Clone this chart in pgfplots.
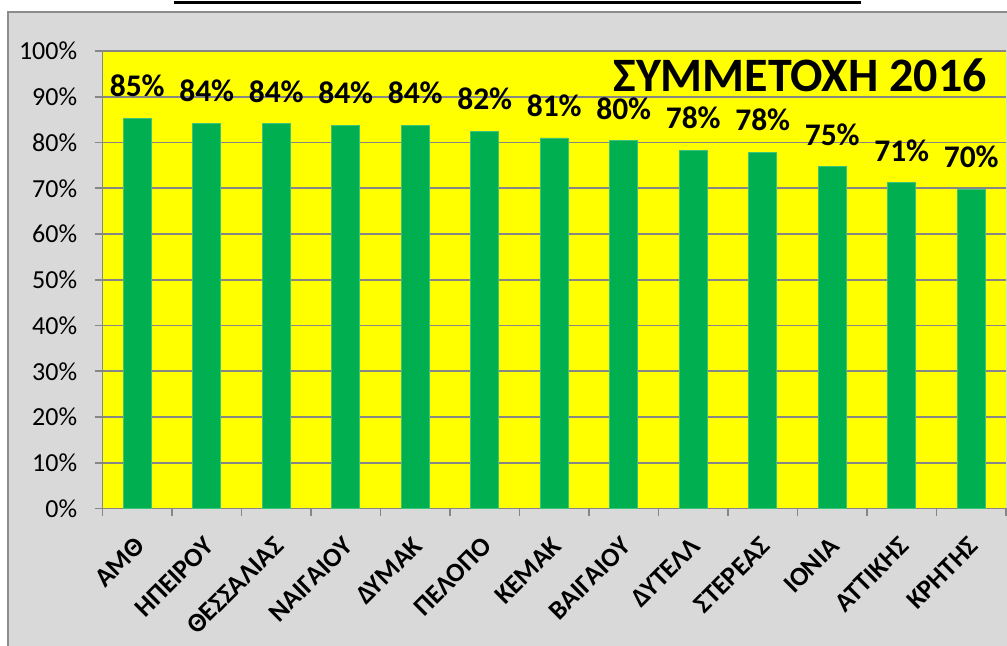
\documentclass[border=0pt]{standalone}
\usepackage{pgfplots}
\pgfplotsset{compat=1.18}
\usepackage{fontspec}
\setmainfont{Carlito}
\definecolor{bggrey}{HTML}{D9D9D9}
\definecolor{framegrey}{HTML}{8C8C8C}
\definecolor{gridgrey}{HTML}{868686}
\definecolor{bargreen}{HTML}{00B050}
\definecolor{baredge}{HTML}{3CC47A}
\definecolor{plotyellow}{HTML}{FFFF00}
\newcommand\xl[1]{{\bfseries\fontsize{20}{21}\selectfont #1}}
\begin{document}
\begin{tikzpicture}
\begin{scope}[x=0.75pt,y=0.75pt]
\path[use as bounding box] (0,0) rectangle (1007,646);
\fill[white] (0,0) rectangle (1007,646);
\fill[bggrey] (8.3,-5) rectangle (1012,633.7);
\draw[framegrey,line width=1.5pt] (8.3,-5) -- (8.3,633.7) -- (1012,633.7);
\fill[black] (174,642) rectangle (861,645);
\end{scope}
\begin{axis}[
  at={(76.875pt,103.125pt)}, anchor=south west,
  scale only axis, width=677.6pt, height=343.1pt,
  xmin=-0.5, xmax=12.5, ymin=0, ymax=100,
  axis background/.style={fill=plotyellow},
  axis x line*=bottom, axis y line*=left,
  axis line style={gridgrey, line width=1.2pt},
  ymajorgrids, major grid style={gridgrey, line width=1.2pt},
  ytick={0,10,...,100},
  yticklabel={\pgfmathprintnumber{\tick}\%},
  yticklabel style={font=\fontsize{19.5}{20}\selectfont, /pgf/number format/assume math mode=true, xshift=-9.5pt},
  tick align=outside,
  major tick length=6pt,
  minor tick length=6pt,
  tick style={gridgrey, line width=1.2pt},
  xtick={0,...,12},
  xticklabels={\xl{ΑΜΘ},\xl{ΗΠΕΙΡΟΥ},\xl{ΘΕΣΣΑΛΙΑΣ},\xl{ΝΑΙΓΑΙΟΥ},\xl{ΔΥΜΑΚ},\xl{ΠΕΛΟΠΟ},\xl{ΚΕΜΑΚ},\xl{ΒΑΙΓΑΙΟΥ},\xl{ΔΥΤΕΛΛ},\xl{ΣΤΕΡΕΑΣ},\xl{ΙΟΝΙΑ},\xl{ΑΤΤΙΚΗΣ},\xl{ΚΡΗΤΗΣ}},
  major x tick style={draw opacity=0},
  minor xtick={-0.5,0.5,...,12.5},
  x tick label style={yshift=-19pt, xshift=2pt, rotate=45, anchor=east, inner sep=0pt},
  ybar, bar width=21pt,
  nodes near coords, point meta=explicit symbolic,
  nodes near coords style={font=\bfseries\fontsize{23.6}{26}\selectfont, anchor=south, inner sep=0pt, yshift=15.75pt},
  clip=false,
]
\addplot[fill=bargreen, draw=baredge, line width=0.6pt] coordinates {
  (0,85.3) [85\%]
  (1,84.2) [84\%]
  (2,84.1) [84\%]
  (3,83.7) [84\%]
  (4,83.7) [84\%]
  (5,82.4) [82\%]
  (6,81.0) [81\%]
  (7,80.4) [80\%]
  (8,78.3) [78\%]
  (9,77.8) [78\%]
  (10,74.7) [75\%]
  (11,71.2) [71\%]
  (12,69.8) [70\%]
};
\end{axis}
\begin{scope}[x=0.75pt,y=0.75pt]
\node[anchor=base east, inner sep=0pt, font=\bfseries\fontsize{36}{40}\selectfont] at (987,554.3) {ΣΥΜΜΕΤΟΧΗ 2016};
\end{scope}
\end{tikzpicture}
\end{document}
